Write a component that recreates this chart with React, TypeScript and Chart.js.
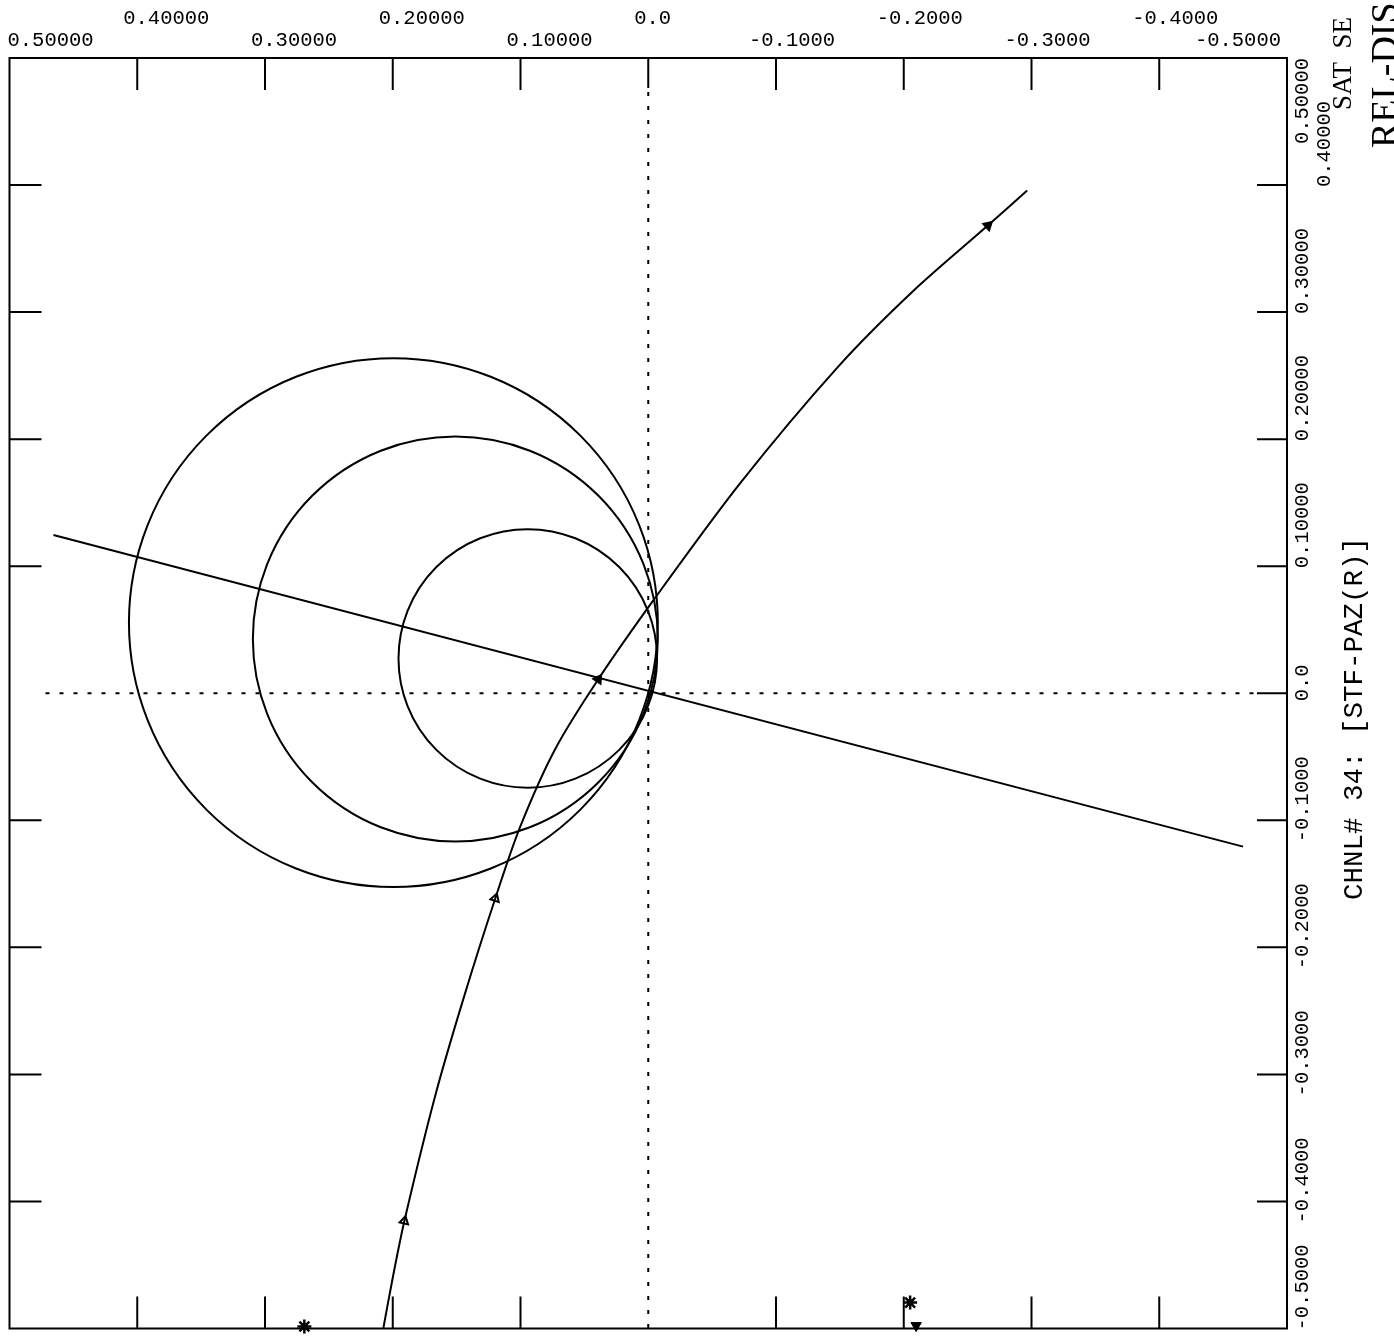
import { useEffect, useRef } from 'react';
import { Chart, registerables } from 'chart.js';

Chart.register(...registerables);

const W = 1394;
const H = 1338;

// Axis ticks (x reversed: +0.5 on the left, -0.5 on the right)
const tickValues = [0.5, 0.4, 0.3, 0.2, 0.1, 0.0, -0.1, -0.2, -0.3, -0.4, -0.5];
const xTickLabels = ['0.50000', '0.40000', '0.30000', '0.20000', '0.10000', '0.0', '-0.1000', '-0.2000', '-0.3000', '-0.4000', '-0.5000'];
const yTickLabels = ['0.50000', '0.40000', '0.30000', '0.20000', '0.10000', '0.0', '-0.1000', '-0.2000', '-0.3000', '-0.4000', '-0.5000'];
const innerTicks = [0.4, 0.3, 0.2, 0.1, -0.1, -0.2, -0.3, -0.4];

// Straight line through the origin
const lineX = [0.4656, -0.4656];
const lineY = [0.1246, -0.1207];

// Locus curve
const curveX = [-0.2966, -0.2660, -0.2074, -0.1487, -0.0720, -0.0055, 0.0391, 0.0728, 0.1002, 0.1197, 0.1440, 0.1667, 0.1909, 0.2003, 0.2074];
const curveY = [0.3958, 0.3683, 0.3166, 0.2571, 0.1654, 0.0752, 0.0110, -0.0439, -0.1050, -0.1614, -0.2382, -0.3166, -0.4154, -0.4616, -0.5000];

// Direction markers on the curve
const markerX = [-0.2660, 0.0391, 0.1197, 0.1909];
const markerY = [0.3683, 0.0110, -0.1614, -0.4154];
const markerRotation = [48, 34, 18, 13];
const markerFill = ['#000', '#000', '#fff', '#fff'];

// Asterisks and end marker at the bottom edge
const starX = [0.2692, -0.2050];
const starY = [-0.4984, -0.4796];
const endX = [-0.2097];
const endY = [-0.4977];

// Circles (center x, center y, radius) in data units
const circleCX = [0.1995, 0.1510, 0.0943];
const circleCY = [0.0556, 0.0427, 0.0274];
const circleR = [0.2070, 0.1585, 0.1012];

const toPts = (xs: number[], ys: number[]) => xs.map((x, i) => ({ x, y: ys[i] }));

function rotText(ctx: CanvasRenderingContext2D, s: string, x: number, y: number, font: string) {
  ctx.save();
  ctx.translate(x, y);
  ctx.rotate(-Math.PI / 2);
  ctx.font = font;
  ctx.textAlign = 'left';
  ctx.textBaseline = 'alphabetic';
  ctx.fillText(s, 0, 0);
  ctx.restore();
}

export default function App() {
  const ref = useRef<HTMLCanvasElement>(null);

  useEffect(() => {
    if (!ref.current) return;

    const decor = {
      id: 'decor',
      beforeDatasetsDraw(chart: any) {
        const ctx: CanvasRenderingContext2D = chart.ctx;
        const a = chart.chartArea;
        const xs = chart.scales.x;
        const ys = chart.scales.y;
        ctx.save();
        ctx.strokeStyle = '#000';
        ctx.fillStyle = '#000';
        ctx.lineWidth = 2;
        ctx.strokeRect(a.left, a.top, a.right - a.left, a.bottom - a.top);
        ctx.beginPath();
        for (const v of innerTicks) {
          const px = xs.getPixelForValue(v);
          ctx.moveTo(px, a.top); ctx.lineTo(px, a.top + 32);
          ctx.moveTo(px, a.bottom); ctx.lineTo(px, a.bottom - 32);
          const py = ys.getPixelForValue(v);
          ctx.moveTo(a.left, py); ctx.lineTo(a.left + 32, py);
          ctx.moveTo(a.right, py); ctx.lineTo(a.right - 30, py);
        }
        // zero ticks on top and right
        const x0 = xs.getPixelForValue(0);
        const y0 = ys.getPixelForValue(0);
        ctx.moveTo(x0, a.top); ctx.lineTo(x0, a.top + 30);
        ctx.moveTo(a.right, y0); ctx.lineTo(a.right - 30, y0);
        ctx.stroke();
        // dotted zero lines
        ctx.setLineDash([4, 10]);
        ctx.beginPath();
        ctx.moveTo(x0, a.top + 34); ctx.lineTo(x0, a.bottom);
        ctx.moveTo(a.left + 36, y0); ctx.lineTo(a.right - 30, y0);
        ctx.stroke();
        ctx.setLineDash([]);
        // circles
        for (let i = 0; i < circleCX.length; i++) {
          const cx = xs.getPixelForValue(circleCX[i]);
          const cy = ys.getPixelForValue(circleCY[i]);
          const r = Math.abs(xs.getPixelForValue(circleCX[i] + circleR[i]) - cx);
          ctx.beginPath();
          ctx.arc(cx, cy, r, 0, Math.PI * 2);
          ctx.stroke();
        }
        // top labels
        const lblFont = '20.5px "Liberation Mono"';
        ctx.font = lblFont;
        ctx.textBaseline = 'alphabetic';
        ctx.textAlign = 'left';
        tickValues.forEach((v, i) => {
          const s = xTickLabels[i];
          const w = ctx.measureText(s).width;
          const px = xs.getPixelForValue(v);
          let left = px - (s.startsWith('-') ? 27 : 14);
          if (left < a.left - 2) left = a.left - 2;
          if (left + w > a.right - 6) left = a.right - 6 - w;
          ctx.fillText(s, left, i % 2 === 1 ? 24 : 46);
        });
        // right labels (rotated, reading upward)
        let prevEnd = -Infinity;
        tickValues.forEach((v, i) => {
          const s = yTickLabels[i];
          ctx.font = lblFont;
          const w = ctx.measureText(s).width;
          const py = ys.getPixelForValue(v);
          let start = py + (s.startsWith('-') ? 22 : v === 0 ? 8 : 2);
          if (start - w < a.top) start = a.top + w;
          if (start > a.bottom + 2) start = a.bottom + 2;
          const shifted = i > 0 && start - w < prevEnd;
          const bx = shifted ? 1330 : 1308;
          rotText(ctx, s, bx, start, lblFont);
          prevEnd = shifted ? -Infinity : start;
        });
        // titles
        rotText(ctx, 'CHNL# 34: [STF-PAZ(R)]', 1362, 900, '27.5px "Liberation Mono"');
        rotText(ctx, 'SAT  SE', 1351, 110, '27px "Liberation Serif"');
        rotText(ctx, 'REL-DIS', 1397, 148, '38px "Liberation Serif"');
        ctx.restore();
      },
    };

    const chart = new Chart(ref.current, {
      type: 'scatter',
      data: {
        datasets: [
          {
            data: toPts(lineX, lineY),
            showLine: true,
            borderColor: '#000',
            borderWidth: 2,
            pointRadius: 0,
          },
          {
            data: toPts(curveX, curveY),
            showLine: true,
            borderColor: '#000',
            borderWidth: 2,
            pointRadius: 0,
            tension: 0.3,
          },
          {
            data: toPts(markerX, markerY),
            pointStyle: 'triangle',
            pointRadius: 5,
            pointRotation: markerRotation,
            pointBackgroundColor: markerFill,
            pointBorderColor: '#000',
            pointBorderWidth: 2,
            clip: false,
          } as any,
          {
            data: toPts(starX, starY),
            pointStyle: 'star',
            pointRadius: 7,
            pointBorderColor: '#000',
            pointBorderWidth: 2.5,
            clip: false,
          } as any,
          {
            data: toPts(endX, endY),
            pointStyle: 'triangle',
            pointRadius: 6,
            pointRotation: 180,
            pointBackgroundColor: '#000',
            pointBorderColor: '#000',
            pointBorderWidth: 1,
            clip: false,
          } as any,
        ],
      },
      options: {
        responsive: false,
        animation: false,
        layout: { padding: { left: 9, top: 58, right: W - 1287, bottom: H - 1334 } },
        plugins: { legend: { display: false }, tooltip: { enabled: false } },
        scales: {
          x: { type: 'linear', min: -0.5, max: 0.5, reverse: true, display: false },
          y: { type: 'linear', min: -0.5, max: 0.5, display: false },
        },
      },
      plugins: [decor],
    });
    return () => chart.destroy();
  }, []);

  return (
    <div style={{ position: 'absolute', left: 0, top: 0, width: W, height: H, background: '#fff' }}>
      <canvas ref={ref} width={W} height={H} style={{ width: W, height: H, display: 'block' }} />
    </div>
  );
}
